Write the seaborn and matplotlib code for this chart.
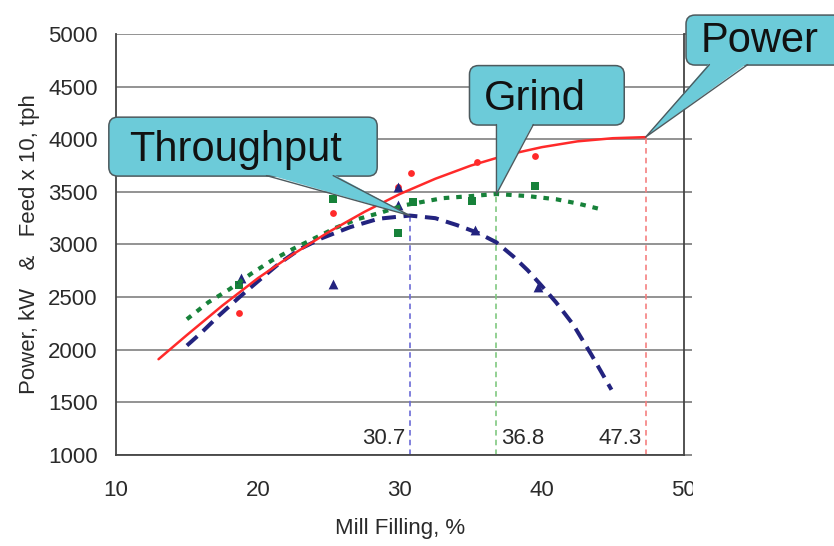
import matplotlib
matplotlib.use('Agg')
import matplotlib.pyplot as plt
import seaborn as sns
from matplotlib.patches import FancyBboxPatch, Polygon, Rectangle
from matplotlib.lines import Line2D
from matplotlib.transforms import IdentityTransform

# ── data ───────────────────────────────────────────────────────────────
power_x = [13, 15, 17.5, 20, 22.5, 25, 27.5, 30, 32.5, 35, 37.5, 40, 42.5, 45, 47.3]
power_y = [1910, 2140, 2420, 2680, 2910, 3120, 3310, 3480, 3625, 3750, 3850, 3925, 3980, 4010, 4020]

thru_x = [15, 16, 17.3, 18.7, 20, 21.5, 23, 24.5, 26.5, 28.5, 30.7, 32.5, 34, 35.5, 36.8, 38, 39, 40, 41, 42.2, 43.5, 44.9]
thru_y = [2040, 2160, 2330, 2500, 2650, 2820, 2960, 3060, 3165, 3245, 3275, 3250, 3185, 3110, 3020, 2885, 2755, 2605, 2450, 2240, 1950, 1620]

grind_x = [15, 16.5, 18, 19.5, 21, 22.5, 24, 25.5, 27, 28.7, 30.2, 31.8, 33, 35, 36.8, 39, 41, 42.5, 44]
grind_y = [2290, 2450, 2575, 2720, 2850, 2960, 3060, 3160, 3240, 3305, 3370, 3410, 3440, 3460, 3480, 3460, 3430, 3390, 3340]

power_pts_x = [18.7, 25.3, 29.9, 30.8, 35.4, 39.5]
power_pts_y = [2350, 3295, 3545, 3680, 3780, 3845]
thru_pts_x = [18.8, 25.3, 29.9, 29.9, 35.3, 39.7]
thru_pts_y = [2680, 2625, 3545, 3375, 3140, 2600]
grind_pts_x = [18.7, 25.3, 29.9, 30.9, 35.1, 39.5]
grind_pts_y = [2615, 3430, 3105, 3405, 3410, 3560]

peak_x = [30.7, 36.8, 47.3]
peak_y = [3275, 3480, 4020]
peak_labels = ['30.7', '36.8', '47.3']

RED, BLUE, GREEN = '#ff2a2a', '#23237f', '#17823a'
VCOL = ['#6b6bd6', '#80c880', '#f58080']
CYAN = '#6ccbd9'
TXT = '#2a2a2a'

sns.set_style('white')
plt.rcParams['font.family'] = ['Liberation Sans', 'DejaVu Sans']
plt.rcParams['lines.scale_dashes'] = False

fig = plt.figure(figsize=(8.34, 5.46), dpi=100)
ax = fig.add_axes([0.139, 0.1667, 0.681, 0.771])

# markers
sns.scatterplot(x=grind_pts_x, y=grind_pts_y, ax=ax, marker='s', s=32, color=GREEN, linewidth=0, zorder=3)
sns.scatterplot(x=power_pts_x, y=power_pts_y, ax=ax, marker='o', s=24, color=RED, linewidth=0, zorder=3)
sns.scatterplot(x=thru_pts_x, y=thru_pts_y, ax=ax, marker='^', s=50, color=BLUE, linewidth=0, zorder=3)

# fitted curves
sns.lineplot(x=thru_x, y=thru_y, ax=ax, color=BLUE, lw=2.9, linestyle=(0, (10, 5.5)), zorder=4)
sns.lineplot(x=grind_x, y=grind_y, ax=ax, color=GREEN, lw=3, linestyle=(0, (4, 5)), zorder=4)
sns.lineplot(x=power_x, y=power_y, ax=ax, color=RED, lw=1.8, zorder=4)

# drop lines at the optimum
for px, py, lab, c, ha in zip(peak_x, peak_y, peak_labels, VCOL, ['right', 'left', 'right']):
    ax.vlines(px, 1000, py, colors=c, lw=1.2, linestyles=(0, (4, 3)), zorder=2)
    dx = -0.3 if ha == 'right' else 0.3
    ax.text(px + dx, 1160, lab, ha=ha, va='center', fontsize=16, color=TXT)

ax.set_xlim(10, 50)
ax.set_ylim(1000, 5000)
ax.set_xticks(range(10, 51, 10))
ax.set_yticks(range(1000, 5001, 500))
ax.yaxis.grid(True, color='#8a8a8a', lw=1.3)
ax.set_axisbelow(True)
for side in ['left', 'bottom', 'right']:
    ax.spines[side].set_color('#444444')
    ax.spines[side].set_linewidth(1.3)
ax.spines['top'].set_visible(False)
ax.tick_params(axis='x', direction='inout', length=10, width=1.2, color='#555555',
               labelsize=16, pad=13, labelcolor=TXT)
ax.tick_params(axis='y', direction='out', length=6, width=1.2, color='#777777',
               labelsize=16, pad=7, labelcolor=TXT, right=True)
ax.set_xlabel('Mill Filling, %', fontsize=16, color=TXT, labelpad=12)
ax.set_ylabel('Power, kW   &   Feed x 10, tph', fontsize=16, color=TXT, labelpad=6)

# white mask on the right (original image is cropped there)
fig.add_artist(Rectangle((0.831, 0), 0.2, 1, transform=fig.transFigure,
                         facecolor='white', edgecolor='none', zorder=5))


def callout(text, box, base, tip, txy):
    T = ax.transData
    (x0, y0), (x1, y1) = T.transform([(box[0], box[1]), (box[2], box[3])])
    fig.add_artist(FancyBboxPatch((x0, y1), x1 - x0, y0 - y1,
                                  boxstyle='round,pad=0,rounding_size=9',
                                  fc=CYAN, ec='#4d5a5e', lw=1.1,
                                  transform=IdentityTransform(), zorder=10))
    (bl, by), (br, _) = T.transform([(base[0], box[3]), (base[1], box[3])])
    tx, ty = T.transform((tip[0], tip[1]))
    fig.add_artist(Polygon([(bl, by + 2), (br, by + 2), (tx, ty)], closed=True,
                           fc=CYAN, ec='none', transform=IdentityTransform(), zorder=11))
    fig.add_artist(Line2D([bl, tx, br], [by + 0.5, ty, by + 0.5], color='#4d5a5e', lw=1.0,
                          transform=IdentityTransform(), zorder=12))
    cx, cy = T.transform(txy)
    fig.add_artist(plt.Text(cx, cy, text, ha='center', va='center', fontsize=30,
                            color='#111111', transform=IdentityTransform(), zorder=13))


callout('Throughput', (9.5, 4210, 28.4, 3650), (20.6, 25.3), (peak_x[0], peak_y[0]), (18.45, 3900))
callout('Grind', (34.9, 4700, 45.8, 4135), (36.8, 39.4), (peak_x[1], peak_y[1]), (39.5, 4385))
callout('Power', (50.15, 5180, 61.7, 4705), (51.8, 54.5), (peak_x[2], peak_y[2]), (55.3, 4930))

fig.savefig('out.png', dpi=100)
